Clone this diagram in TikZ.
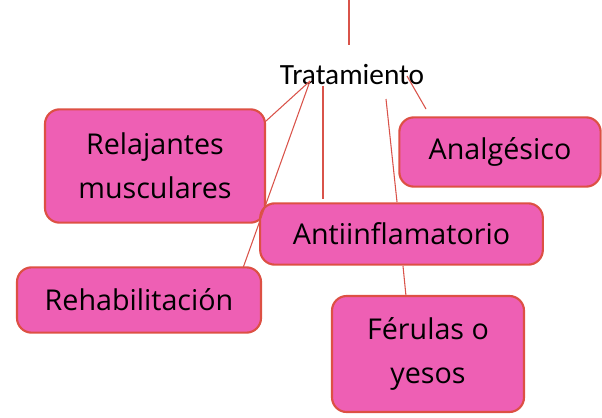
\documentclass[tikz,border=0pt]{standalone}
\usepackage{fontspec}
\setmainfont{Carlito}
\newfontfamily\boxfont{Open Sans}
\definecolor{boxfill}{HTML}{EE5FB4}
\definecolor{boxline}{HTML}{DD5044}
\definecolor{linkline}{HTML}{D9534A}
\tikzset{
  px/.style={x=0.75pt,y=-0.75pt},
  topic/.style={rectangle, rounded corners=11pt, draw=boxline, line width=1.6pt, fill=boxfill,
    font=\boxfont\fontsize{21.5}{33}\selectfont, align=center, inner sep=0pt},
  link/.style={draw=linkline, line width=0.8pt}
}
\begin{document}
\begin{tikzpicture}[px]
\useasboundingbox (0,0) rectangle (602,417);
% boxes
\node[topic, minimum width=165pt, minimum height=85pt] (rel) at (155,166) {Relajantes\\musculares};
\node[topic, minimum width=151pt, minimum height=52pt] (ana) at (500,152) {Analgésico};
\node[topic, minimum width=212pt, minimum height=46pt] (anti) at (401.5,234) {Antiinflamatorio};
\node[topic, minimum width=183pt, minimum height=49pt] (reh) at (139,300) {Rehabilitación};
\node[topic, minimum width=144pt, minimum height=87pt] (fer) at (428,354) {Férulas o\\yesos};
% title
\node[font=\fontsize{22}{24}\selectfont, inner sep=0pt] (tra) at (352,75) {Tratamiento};
% connector coordinates
\coordinate (top0) at (349,0);
\coordinate (top1) at (349,45);
\coordinate (hubA) at (310,81);
\coordinate (relE) at (266,121);
\coordinate (rehE) at (243,268);
\coordinate (v0) at (323,86);
\coordinate (v1) at (323,199);
\coordinate (f0) at (386,99);
\coordinate (f1) at (397,202);
\coordinate (g0) at (403,266);
\coordinate (g1) at (406,296);
\coordinate (a0) at (407,76);
\coordinate (a1) at (426,109);
\draw[link] (top0) -- (top1);
\draw[link] (hubA) -- (relE);
\draw[link] (hubA) -- (rehE);
\draw[link] (v0) -- (v1);
\draw[link] (f0) -- (f1);
\draw[link] (g0) -- (g1);
\draw[link] (a0) -- (a1);
\end{tikzpicture}
\end{document}
